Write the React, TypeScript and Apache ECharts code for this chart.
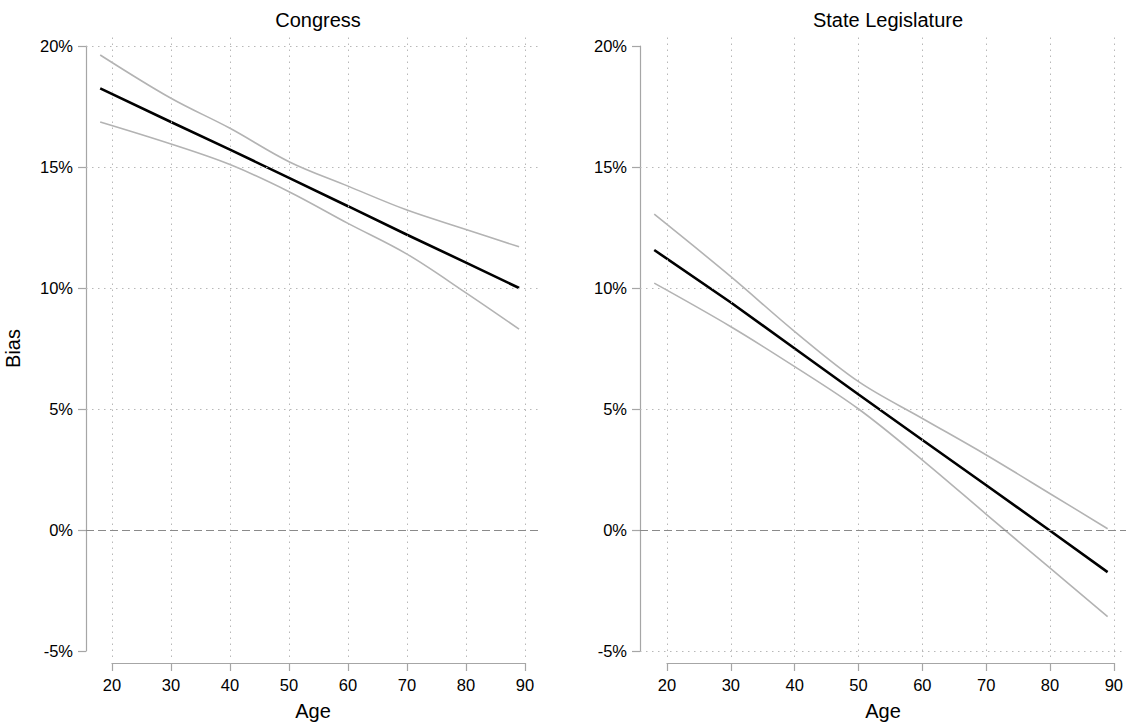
import React, { useEffect, useRef } from "react";
import * as echarts from "echarts";

// ---- data ----
const ages = [18, 30, 40, 50, 60, 70, 80, 89];

const congressEstimate = [18.25, 16.86, 15.72, 14.55, 13.38, 12.2, 11.05, 10.0];
const congressUpper = [19.63, 17.84, 16.6, 15.22, 14.21, 13.22, 12.42, 11.7];
const congressLower = [16.86, 15.95, 15.1, 13.98, 12.67, 11.4, 9.8, 8.3];

const stateEstimate = [11.57, 9.4, 7.5, 5.6, 3.72, 1.85, -0.03, -1.74];
const stateUpper = [13.05, 10.47, 8.2, 6.13, 4.61, 3.1, 1.5, 0.05];
const stateLower = [10.2, 8.4, 6.75, 5.0, 2.89, 0.65, -1.58, -3.58];

const ageTicks = [20, 30, 40, 50, 60, 70, 80, 90];
const biasTicks = [-5, 0, 5, 10, 15, 20];
const congressGridBias = [5, 10, 15, 20];
const stateGridBias = [-5, 5, 10, 15];

const panelTitles = ["Congress", "State Legislature"];
const xAxisTitle = "Age";
const yAxisTitle = "Bias";

const FONT = '"Liberation Sans", Arial, Helvetica, sans-serif';
const AXIS_GRAY = "#a6a6a6";

type Geometry = {
  plot: { left: number; top: number; right: number; bottom: number };
  xLine: { x0: number; x1: number; y: number };
  yLine: { x: number; y0: number; y1: number };
};

const geometries: Geometry[] = [
  {
    plot: { left: 86, top: 33, right: 540, bottom: 657 },
    xLine: { x0: 112, x1: 525, y: 663 },
    yLine: { x: 86, y0: 46, y1: 651 },
  },
  {
    plot: { left: 640, top: 33, right: 1126, bottom: 657 },
    xLine: { x0: 667, x1: 1114, y: 663 },
    yLine: { x: 640, y0: 46, y1: 651 },
  },
];

function pairs(xs: number[], ys: number[]) {
  return xs.map((x, i) => [x, ys[i]]);
}

function buildOption() {
  const xLo = ageTicks[0];
  const xHi = ageTicks[ageTicks.length - 1];
  const yLo = biasTicks[0];
  const yHi = biasTicks[biasTicks.length - 1];

  const panels = [
    { est: congressEstimate, up: congressUpper, lo: congressLower, gridBias: congressGridBias },
    { est: stateEstimate, up: stateUpper, lo: stateLower, gridBias: stateGridBias },
  ];

  const grid: any[] = [];
  const xAxis: any[] = [];
  const yAxis: any[] = [];
  const series: any[] = [];
  const title: any[] = [];

  panels.forEach((p, i) => {
    const g = geometries[i];
    const xScale = (xHi - xLo) / (g.xLine.x1 - g.xLine.x0);
    const yScale = (yHi - yLo) / (g.yLine.y1 - g.yLine.y0);
    const pxMin = xLo + (g.plot.left - g.xLine.x0) * xScale;
    const pxMax = xLo + (g.plot.right - g.xLine.x0) * xScale;
    const pyMax = yHi + (g.yLine.y0 - g.plot.top) * yScale;
    const pyMin = yHi - (g.plot.bottom - g.yLine.y0) * yScale;
    const base = i * 3;

    grid.push({
      left: g.plot.left,
      top: g.plot.top,
      width: g.plot.right - g.plot.left,
      height: g.plot.bottom - g.plot.top,
      containLabel: false,
    });
    grid.push({
      left: g.xLine.x0,
      top: g.xLine.y - 1,
      width: g.xLine.x1 - g.xLine.x0,
      height: 1,
      containLabel: false,
    });
    grid.push({
      left: g.yLine.x,
      top: g.yLine.y0,
      width: 1,
      height: g.yLine.y1 - g.yLine.y0,
      containLabel: false,
    });

    xAxis.push({
      gridIndex: base,
      type: "value",
      min: pxMin,
      max: pxMax,
      axisLine: { show: false },
      axisTick: { show: false },
      axisLabel: { show: false },
      splitLine: { show: false },
      name: xAxisTitle,
      nameLocation: "middle",
      nameGap: 44,
      nameTextStyle: { fontFamily: FONT, fontSize: 20, color: "#000" },
    });
    xAxis.push({
      gridIndex: base + 1,
      type: "value",
      min: xLo,
      max: xHi,
      interval: 10,
      position: "bottom",
      axisLine: { show: true, lineStyle: { color: AXIS_GRAY, width: 1.2 } },
      axisTick: { show: true, length: 8, lineStyle: { color: AXIS_GRAY, width: 1.2 } },
      axisLabel: { show: true, margin: 13, fontFamily: FONT, fontSize: 16.5, color: "#000" },
      splitLine: { show: false },
    });
    xAxis.push({ gridIndex: base + 2, type: "value", show: false, min: 0, max: 1 });

    yAxis.push({
      gridIndex: base,
      type: "value",
      min: pyMin,
      max: pyMax,
      axisLine: { show: false },
      axisTick: { show: false },
      axisLabel: { show: false },
      splitLine: { show: false },
    });
    yAxis.push({ gridIndex: base + 1, type: "value", show: false, min: 0, max: 1 });
    yAxis.push({
      gridIndex: base + 2,
      type: "value",
      min: yLo,
      max: yHi,
      interval: 5,
      position: "left",
      axisLine: { show: true, lineStyle: { color: AXIS_GRAY, width: 1.2 } },
      axisTick: { show: true, length: 8, lineStyle: { color: AXIS_GRAY, width: 1.2 } },
      axisLabel: {
        show: true,
        margin: 13,
        fontFamily: FONT,
        fontSize: 16.5,
        color: "#000",
        formatter: "{value}%",
      },
      splitLine: { show: false },
      name: i === 0 ? yAxisTitle : "",
      nameLocation: "middle",
      nameGap: 63,
      nameTextStyle: { fontFamily: FONT, fontSize: 20, color: "#000" },
    });

    title.push({
      text: panelTitles[i],
      left: (g.plot.left + g.plot.right) / 2,
      top: 5,
      textAlign: "center",
      textStyle: { fontFamily: FONT, fontSize: 20, fontWeight: "normal", color: "#000" },
    });

    series.push({
      type: "line",
      xAxisIndex: base,
      yAxisIndex: base,
      data: [],
      z: 1,
      silent: true,
      markLine: {
        silent: true,
        symbol: ["none", "none"],
        label: { show: false },
        emphasis: { disabled: true },
        lineStyle: { type: [1.5, 4.5], color: "#b8b8b8", width: 1 },
        data: [
          ...ageTicks.map((v) => ({ xAxis: v })),
          ...p.gridBias.map((v) => ({ yAxis: v })),
          { yAxis: 0, lineStyle: { type: [8, 4], color: "#8a8a8a", width: 1.2 } },
        ],
      },
    });

    const ciStyle = { color: "#b3b3b3", width: 1.6 };
    series.push({
      type: "line",
      name: "upper",
      xAxisIndex: base,
      yAxisIndex: base,
      data: pairs(ages, p.up),
      showSymbol: false,
      smooth: 0.35,
      lineStyle: ciStyle,
      z: 3,
    });
    series.push({
      type: "line",
      name: "lower",
      xAxisIndex: base,
      yAxisIndex: base,
      data: pairs(ages, p.lo),
      showSymbol: false,
      smooth: 0.35,
      lineStyle: ciStyle,
      z: 3,
    });
    series.push({
      type: "line",
      name: "estimate",
      xAxisIndex: base,
      yAxisIndex: base,
      data: pairs(ages, p.est),
      showSymbol: false,
      smooth: false,
      lineStyle: { color: "#000", width: 2.6 },
      z: 4,
    });
  });

  return {
    animation: false,
    backgroundColor: "#fff",
    textStyle: { fontFamily: FONT },
    title,
    grid,
    xAxis,
    yAxis,
    series,
  };
}

export default function App() {
  const ref = useRef<HTMLDivElement>(null);

  useEffect(() => {
    document.body.style.margin = "0";
    if (!ref.current) return;
    const chart = echarts.init(ref.current, undefined, { renderer: "svg" });
    chart.setOption(buildOption() as any);
    return () => {
      chart.dispose();
    };
  }, []);

  return <div ref={ref} style={{ width: 1126, height: 727 }} />;
}
